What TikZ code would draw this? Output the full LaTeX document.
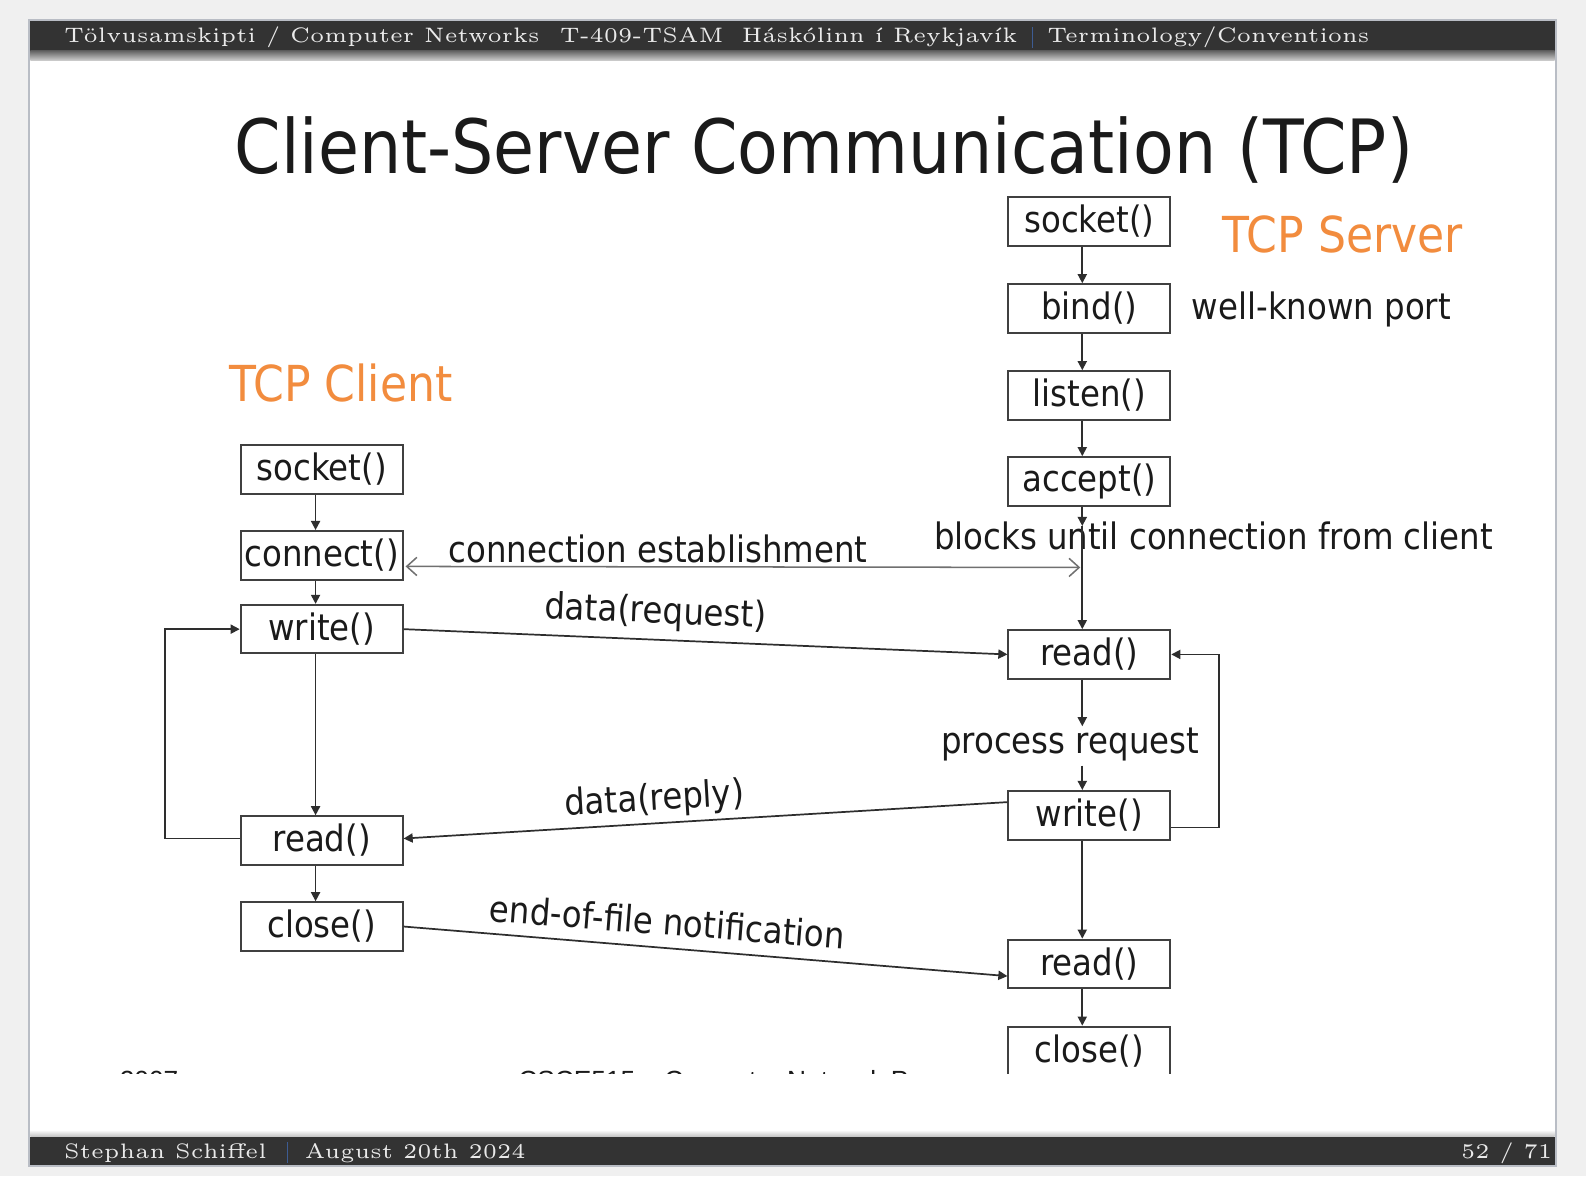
\documentclass[tikz,border=0pt]{standalone}
\usepackage{fontspec}
\newfontfamily\tah[FakeStretch=0.89]{DejaVu Sans}
\newfontfamily\arl{Liberation Sans}
\usetikzlibrary{arrows.meta,calc}
\definecolor{bgc}{HTML}{F0F0F0}
\definecolor{barc}{HTML}{333333}
\definecolor{framec}{HTML}{B9BDC5}
\definecolor{sepc}{HTML}{3D5C93}
\definecolor{hdrtext}{HTML}{EAEAEA}
\definecolor{tcporange}{RGB}{242,140,62}
\definecolor{ink}{HTML}{1A1A1A}
\definecolor{linec}{HTML}{2E2E2E}
\definecolor{boxc}{HTML}{404040}
\definecolor{connc}{HTML}{707070}
\newcommand{\hdrfont}[1]{\scalebox{2.07}{\fontsize{5}{6}\selectfont #1}}
\begin{document}
\begin{tikzpicture}[x=0.5pt,y=-0.5pt,
  fnbox/.style={draw=boxc, line width=1pt, fill=white, minimum width=80pt,
    minimum height=24pt, inner sep=0pt, text=ink, font=\tah\fontsize{18}{20}\selectfont},
  lbl/.style={inner sep=0pt, text=ink, font=\tah\fontsize{18}{20}\selectfont},
  role/.style={inner sep=0pt, text=tcporange, font=\tah\fontsize{24.5}{28}\selectfont},
  hdr/.style={inner sep=0pt, text=hdrtext, anchor=base west},
  arr/.style={draw=linec, line width=0.85pt, -{Triangle[length=4.5pt,width=4.5pt]}},
  connarr/.style={draw=connc, line width=0.75pt,
    {Straight Barb[length=5pt,width=9pt]}-{Straight Barb[length=5pt,width=9pt]}},
]
\useasboundingbox (0,0) rectangle (1568,1163);

% page and slide frame
\fill[bgc] (0,0) rectangle (1568,1163);
\draw[framec, line width=1pt, fill=white] (29,20) rectangle (1538,1153);

% head line
\fill[barc] (30,21) rectangle (1537,50);
\shade[top color=black!62, bottom color=black!18] (30,50) rectangle (1537,60);
\node[hdr] (hd1) at (63,42) {\hdrfont{Tölvusamskipti / Computer Networks}};
\node[hdr] (hd2) at (553,42) {\hdrfont{T-409-TSAM}};
\node[hdr] (hd3) at (733,42) {\hdrfont{Háskólinn í Reykjavík}};
\draw[sepc, line width=0.6pt] (1021,27) -- (1021,47);
\node[hdr] (hd4) at (1035,42) {\hdrfont{Terminology/Conventions}};

% foot line
\shade[top color=white, bottom color=black!25] (30,1117) rectangle (1537,1124);
\fill[barc] (30,1124) rectangle (1537,1152);
\node[hdr] (ft1) at (63,1145) {\hdrfont{Stephan Schiffel}};
\draw[sepc, line width=0.6pt] (284,1129) -- (284,1150);
\node[hdr] (ft2) at (301,1145) {\hdrfont{August 20th 2024}};
\node[hdr, anchor=base east] (ft3) at (1535,1145) {\hdrfont{52 / 71}};

% title
\node[inner sep=0pt, text=ink, font=\tah\fontsize{37}{42}\selectfont, anchor=base]
  (title) at (814.5,172) {Client-Server Communication (TCP)};

\begin{scope}
\clip (30,60) rectangle (1537,1061);

% leftover footer of the embedded figure
\node[inner sep=0pt, anchor=base west, text=ink, font=\arl\fontsize{13}{15}\selectfont]
  (oldyear) at (118,1077) {2007};
\node[inner sep=0pt, anchor=base west, text=ink, font=\arl\fontsize{13}{15}\selectfont]
  (oldcourse) at (512,1077) {CSCE515 – Computer Network Programming};

% side headings
\node[role, anchor=base west] (srvname) at (1208,250) {TCP Server};
\node[role, anchor=base west] (cliname) at (226,397) {TCP Client};

% server calls
\node[fnbox] (ssocket) at (1077,219) {socket()};
\node[fnbox] (sbind)   at (1077,305) {bind()};
\node[fnbox] (slisten) at (1077,391) {listen()};
\node[fnbox] (saccept) at (1077,476) {accept()};
\node[fnbox] (sread)   at (1077,647) {read()};
\node[fnbox] (swrite)  at (1077,806) {write()};
\node[fnbox] (sread2)  at (1077,953) {read()};
\node[fnbox] (sclose)  at (1077,1039) {close()};

% client calls
\node[fnbox] (csocket)  at (318,464) {socket()};
\node[fnbox] (cconnect) at (318,549) {connect()};
\node[fnbox] (cwrite)   at (318,622) {write()};
\node[fnbox] (cread)    at (318,831) {read()};
\node[fnbox] (cclose)   at (318,916) {close()};

% annotations
\node[lbl, anchor=base west] (wkport) at (1178,316) {well-known port};
\node[lbl, anchor=base west] (blocks) at (923,543) {blocks until connection from client};
\node[lbl, anchor=base west] (connest) at (443,556) {connection establishment};
\node[lbl, anchor=base west] (procreq) at (930,745) {process request};
\node[lbl, rotate=-2.4] (dreq) at (648,606) {data(request)};
\node[lbl, rotate=3.4] (drep) at (647,791) {data(reply)};
\node[lbl, rotate=-4.5] (eof) at (660,911) {end-of-file notification};

% server flow
\coordinate (blk) at (1070,520);
\coordinate (pr1) at (1070,718);
\coordinate (pr2) at (1070,757);
\coordinate (connend) at (1068,561);
\draw[arr] ([xshift=-3.5pt]ssocket.south) -- ([xshift=-3.5pt]sbind.north);
\draw[arr] ([xshift=-3.5pt]sbind.south) -- ([xshift=-3.5pt]slisten.north);
\draw[arr] ([xshift=-3.5pt]slisten.south) -- ([xshift=-3.5pt]saccept.north);
\draw[arr] ([xshift=-3.5pt]saccept.south) -- (blk);
\draw[arr] (blk) -- ([xshift=-3.5pt]sread.north);
\draw[arr] ([xshift=-3.5pt]sread.south) -- (pr1);
\draw[arr] (pr2) -- ([xshift=-3.5pt]swrite.north);
\draw[arr] ([yshift=-6pt]swrite.east) -- ++(47,0) |- (sread.east);
\draw[arr] ([xshift=-3.5pt]swrite.south) -- ([xshift=-3.5pt]sread2.north);
\draw[arr] ([xshift=-3.5pt]sread2.south) -- ([xshift=-3.5pt]sclose.north);

% client flow
\draw[arr] ([xshift=-3pt]csocket.south) -- ([xshift=-3pt]cconnect.north);
\draw[arr] ([xshift=-3pt]cconnect.south) -- ([xshift=-3pt]cwrite.north);
\draw[arr] ([xshift=-3pt]cwrite.south) -- ([xshift=-3pt]cread.north);
\draw[arr] ([yshift=1pt]cread.west) -- ++(-74,0) |- (cwrite.west);
\draw[arr] ([xshift=-3pt]cread.south) -- ([xshift=-3pt]cclose.north);

% messages between the two sides
\draw[connarr] ([xshift=1pt,yshift=-5.5pt]cconnect.east) -- (connend);
\draw[arr] (cwrite.east) -- (sread.west);
\draw[arr] ([yshift=6.5pt]swrite.west) -- ([yshift=1pt]cread.east);
\draw[arr] (cclose.east) -- ([yshift=-6pt]sread2.west);
\end{scope}
\end{tikzpicture}
\end{document}
